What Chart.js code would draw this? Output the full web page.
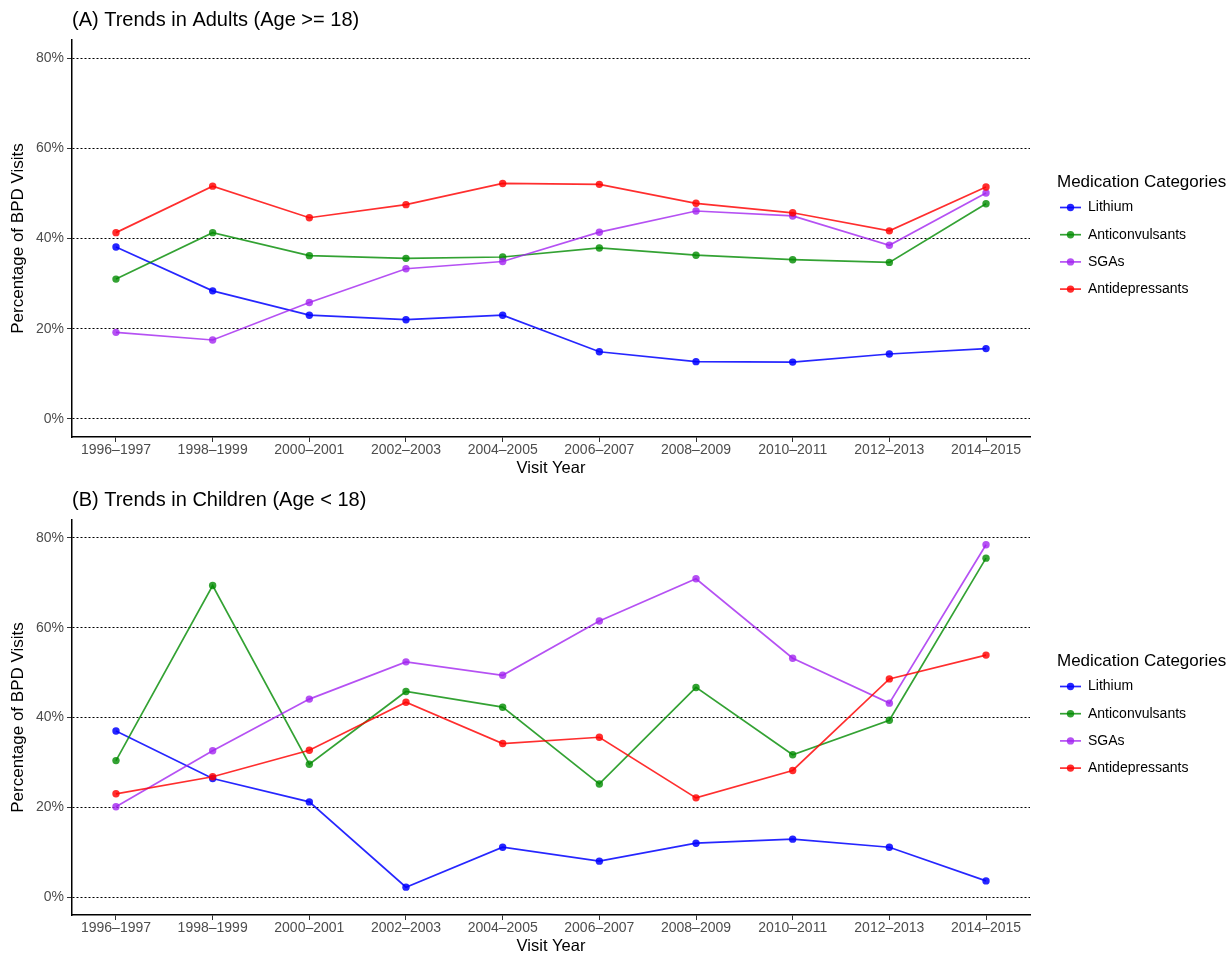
<!DOCTYPE html>
<html>
<head>
<meta charset="utf-8">
<title>BPD medication trends</title>
<script src="https://cdn.jsdelivr.net/npm/chart.js@4.4.1/dist/chart.umd.min.js"></script>
<style>
  body { margin: 0; background: #fff; }
  #wrap { position: relative; width: 1230px; height: 956px; }
  canvas { position: absolute; left: 0; }
</style>
</head>
<body>
<div id="wrap">
  <canvas id="adults" width="1230" height="478" style="top:0px"></canvas>
  <canvas id="children" width="1230" height="476" style="top:480px"></canvas>
</div>
<script>
// visit year groups (x axis)
const years = ['1996–1997', '1998–1999', '2000–2001', '2002–2003', '2004–2005',
               '2006–2007', '2008–2009', '2010–2011', '2012–2013', '2014–2015'];
const seriesNames = ['Lithium', 'Anticonvulsants', 'SGAs', 'Antidepressants'];
const seriesColors = ['rgba(0,0,255,0.85)', 'rgba(0,139,0,0.8)', 'rgba(160,32,240,0.78)', 'rgba(255,0,0,0.82)'];
const yTicks = [0, 20, 40, 60, 80];

// (A) adults, % of BPD visits
const adultLithium         = [38.1, 28.4, 23.0, 22.0, 23.0, 14.9, 12.7, 12.6, 14.4, 15.6];
const adultAnticonvulsants = [31.0, 41.3, 36.2, 35.6, 35.9, 37.9, 36.3, 35.3, 34.7, 47.7];
const adultSGAs            = [19.2, 17.5, 25.8, 33.3, 34.9, 41.4, 46.1, 45.0, 38.5, 50.1];
const adultAntidepressants = [41.3, 51.6, 44.6, 47.5, 52.2, 52.0, 47.8, 45.7, 41.7, 51.4];

// (B) children, % of BPD visits
const childLithium         = [37.0, 26.4, 21.2, 2.2, 11.1, 8.0, 12.0, 12.9, 11.1, 3.6];
const childAnticonvulsants = [30.4, 69.4, 29.6, 45.8, 42.3, 25.2, 46.7, 31.7, 39.4, 75.5];
const childSGAs            = [20.1, 32.6, 44.1, 52.4, 49.4, 61.5, 70.9, 53.2, 43.2, 78.5];
const childAntidepressants = [23.0, 26.8, 32.7, 43.4, 34.2, 35.6, 22.1, 28.2, 48.6, 53.9];

Chart.defaults.font.family = '"Liberation Sans", Arial, Helvetica, sans-serif';

// legend drawn to the right of the plot, ggplot style (line + dot)
const sideLegend = {
  id: 'sideLegend',
  afterDraw(chart) {
    const ctx = chart.ctx;
    const area = chart.chartArea;
    const mid = (area.top + area.bottom) / 2;
    const x0 = area.right + 27;
    ctx.save();
    ctx.textBaseline = 'middle';
    ctx.textAlign = 'left';
    ctx.fillStyle = '#000';
    ctx.font = '17px "Liberation Sans", Arial, sans-serif';
    ctx.fillText('Medication Categories', x0, mid - 56);
    ctx.font = '14px "Liberation Sans", Arial, sans-serif';
    seriesNames.forEach((name, i) => {
      const y = mid - 31 + i * 27.2;
      ctx.strokeStyle = seriesColors[i];
      ctx.lineWidth = 1.7;
      ctx.beginPath();
      ctx.moveTo(x0 + 3, y);
      ctx.lineTo(x0 + 24, y);
      ctx.stroke();
      ctx.fillStyle = seriesColors[i];
      ctx.beginPath();
      ctx.arc(x0 + 13.5, y, 3.7, 0, Math.PI * 2);
      ctx.fill();
      ctx.fillStyle = '#000';
      ctx.fillText(name, x0 + 31, y);
    });
    ctx.restore();
  }
};

function makeChart(id, title, values) {
  const datasets = values.map((vals, i) => ({
    label: seriesNames[i],
    data: vals.map((v, j) => ({ x: j, y: v })),
    borderColor: seriesColors[i],
    backgroundColor: seriesColors[i],
    borderWidth: 1.7,
    pointRadius: 3.7,
    pointBorderWidth: 0,
    pointBackgroundColor: seriesColors[i],
    tension: 0,
    order: values.length - 1 - i
  }));

  return new Chart(document.getElementById(id), {
    type: 'line',
    data: { datasets: datasets },
    plugins: [sideLegend],
    options: {
      responsive: false,
      animation: false,
      devicePixelRatio: 1,
      layout: { padding: { left: 0, right: 200, top: 0, bottom: 0 } },
      plugins: {
        legend: { display: false },
        tooltip: { enabled: false },
        title: {
          display: true,
          text: title,
          align: 'start',
          fullSize: false,
          color: '#000',
          font: { size: 20, weight: 'normal' },
          padding: { top: 8, bottom: 8 }
        }
      },
      scales: {
        x: {
          type: 'linear',
          min: -0.455,
          max: 9.455,
          afterBuildTicks: s => { s.ticks = years.map((_, i) => ({ value: i })); },
          afterFit: s => { s.height = 41; },
          ticks: {
            callback: v => years[v],
            color: '#4d4d4d',
            font: { size: 14 },
            padding: 0,
            maxRotation: 0,
            autoSkip: false
          },
          grid: { drawOnChartArea: false, drawTicks: true, tickLength: 5, tickColor: '#333', tickWidth: 1 },
          border: { display: true, color: '#000', width: 1.5 },
          title: { display: true, text: 'Visit Year', color: '#000', font: { size: 16.5 }, padding: { top: 0, bottom: 0 } }
        },
        y: {
          min: -4,
          max: 84,
          afterBuildTicks: s => { s.ticks = yTicks.map(v => ({ value: v })); },
          afterFit: s => { s.width = 72; },
          ticks: { callback: v => v + '%', color: '#4d4d4d', font: { size: 14 }, padding: 3 },
          grid: { color: '#000', lineWidth: 1, drawTicks: true, tickLength: 5, tickColor: '#333', tickWidth: 1, tickBorderDash: [] },
          border: { display: true, color: '#000', width: 1.5, dash: [2, 2] },
          title: { display: true, text: 'Percentage of BPD Visits', color: '#000', font: { size: 17 }, padding: { top: 8, bottom: 0 } }
        }
      }
    }
  });
}

makeChart('adults', '(A) Trends in Adults (Age >= 18)',
  [adultLithium, adultAnticonvulsants, adultSGAs, adultAntidepressants]);
makeChart('children', '(B) Trends in Children (Age < 18)',
  [childLithium, childAnticonvulsants, childSGAs, childAntidepressants]);
</script>
</body>
</html>
